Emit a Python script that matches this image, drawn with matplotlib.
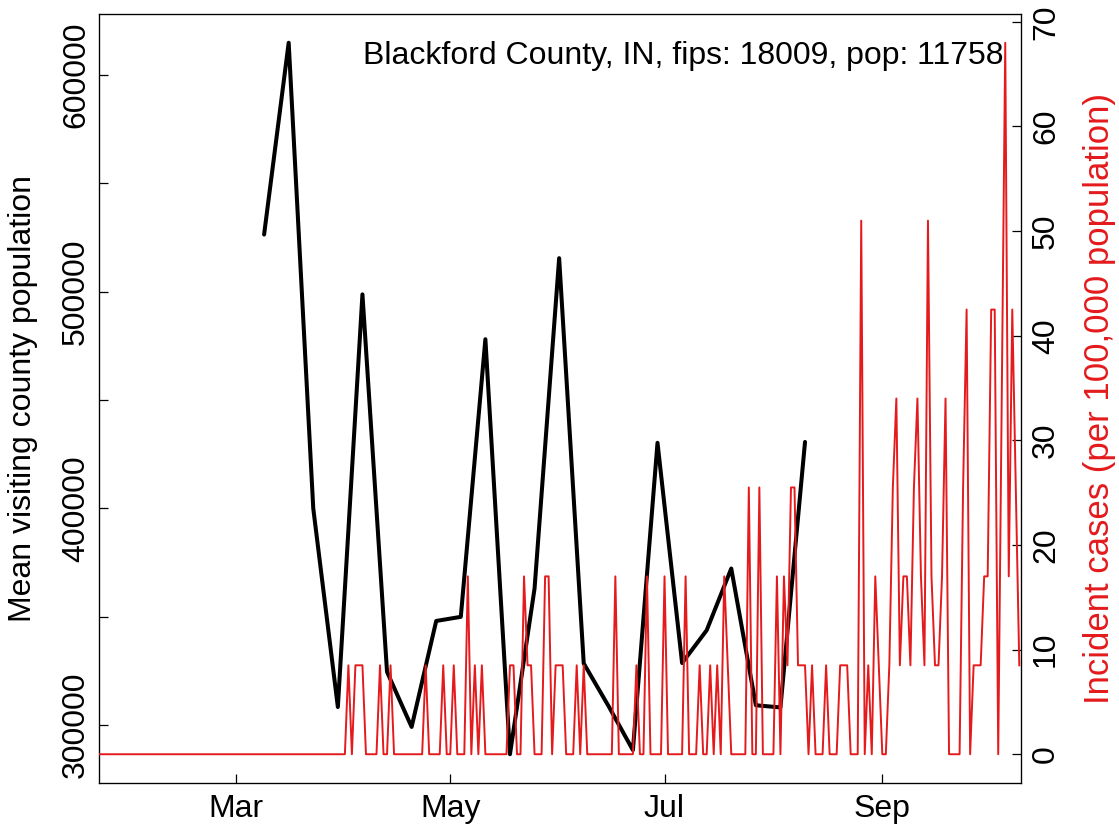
import numpy as np
import matplotlib
matplotlib.use("Agg")
import matplotlib.pyplot as plt
import matplotlib.dates as mdates

plt.rcParams['font.family'] = ['Liberation Sans', 'DejaVu Sans']

# ---------------- data ----------------
title_text = "Blackford County, IN, fips: 18009, pop: 11758"
left_label = "Mean visiting county population"
right_label = "Incident cases (per 100,000 population)"

# weekly mean visiting county population (Mar 9 .. Aug 10, 2020)
visit_start, visit_stop = '2020-03-09', '2020-08-11'
visit_values = [526400, 614900, 400000, 308400, 498800, 324600, 299200,
                348100, 350000, 478100, 286600, 363100, 515500, 328500,
                309000, 288500, 430300, 328700, 343800, 372300, 309200,
                308200, 430700]

# daily incident cases per 100,000 (Jan 22 .. Oct 10, 2020)
case_start, case_stop = '2020-01-22', '2020-10-11'
case_values = [
    0, 0, 0, 0, 0, 0, 0, 0, 0, 0,
    0, 0, 0, 0, 0, 0, 0, 0, 0, 0,
    0, 0, 0, 0, 0, 0, 0, 0, 0, 0,
    0, 0, 0, 0, 0, 0, 0, 0, 0, 0,
    0, 0, 0, 0, 0, 0, 0, 0, 0, 0,
    0, 0, 0, 0, 0, 0, 0, 0, 0, 0,
    0, 0, 0, 0, 0, 0, 0, 0, 0, 0,
    0,
    8.5, 0, 8.5, 8.5, 8.5, 0, 0, 0, 0, 8.5,
    0, 0, 8.5, 0, 0, 0, 0, 0, 0, 0,
    0, 0, 8.5, 0, 0, 0, 0, 8.5, 0, 0,
    8.5, 0, 0, 0, 17, 0, 8.5, 0, 8.5, 0,
    0, 0, 0, 0, 0, 0, 8.5, 8.5, 0, 0,
    17, 8.5, 8.5, 0, 0, 0, 17, 17, 0, 8.5,
    8.5, 8.5, 0, 0, 0, 8.5, 0, 8.5, 0, 0,
    0, 0, 0, 0, 0, 0, 17, 0, 0, 0,
    0, 0, 8.5, 0, 0, 17, 0, 0, 0, 0,
    17, 0, 0, 0, 0, 0, 17, 0, 0, 0,
    8.5, 0, 0, 8.5, 0, 8.5, 0, 17, 8.5, 0,
    0, 0, 0, 0, 25.5, 0, 0, 25.5, 0, 0,
    0, 0, 17, 0, 17, 8.5, 25.5, 25.5, 8.5, 8.5,
    8.5, 0, 8.5, 0, 0, 0, 8.5, 0, 0, 0,
    8.5, 8.5, 8.5, 0, 0, 0, 51, 0, 8.5, 0,
    17, 8.5, 0, 0, 8.5, 25.5, 34, 8.5, 17, 17,
    8.5, 25.5, 34, 17, 8.5, 51, 17, 8.5, 8.5, 17,
    34, 0, 0, 0, 0, 25.5, 42.5, 0, 8.5, 8.5,
    8.5, 17, 17, 42.5, 42.5, 0, 34, 68, 17, 42.5,
    25.5, 8.5,
]

month_ticks = ['2020-03-01', '2020-05-01', '2020-07-01', '2020-09-01']
month_labels = ['Mar', 'May', 'Jul', 'Sep']
left_ticks = [300000, 350000, 400000, 450000, 500000, 550000, 600000]
left_ticklabels = ['300000', '', '400000', '', '500000', '', '600000']
right_ticks = [0, 10, 20, 30, 40, 50, 60, 70]

# ---------------- plot ----------------
RED = '#E41A1C'
FS = 23
W, H = 1119, 826
fig = plt.figure(figsize=(W / 100, H / 100), dpi=100)
ax_l, ax_r, ax_t, ax_b = 99, 1020.7, 14.3, 782.7
ax = fig.add_axes([ax_l / W, 1 - ax_b / H, (ax_r - ax_l) / W, (ax_b - ax_t) / H])

visit_dates = np.arange(visit_start, visit_stop, 7, dtype='datetime64[D]')
case_dates = np.arange(case_start, case_stop, dtype='datetime64[D]')

ax.plot(visit_dates, visit_values, color='black', lw=2.9, solid_joinstyle='round',
        solid_capstyle='round', zorder=2)

vmin, vmax = min(visit_values), max(visit_values)
vpad = 0.04 * (vmax - vmin)
ax.set_ylim(vmin - vpad, vmax + vpad)

x0 = mdates.date2num(np.datetime64(case_start))
ax.set_xlim(x0, x0 + 262.4)

ax.set_xticks(mdates.date2num(np.array(month_ticks, dtype='datetime64[D]')))
ax.set_xticklabels(month_labels)
ax.set_yticks(left_ticks)
ax.set_yticklabels(left_ticklabels, rotation=90, va='center')

ax.tick_params(axis='both', direction='in', length=6.3, width=0.9,
               labelsize=FS, colors='black')
ax.tick_params(axis='x', pad=8.0)
ax.tick_params(axis='y', pad=5.8)
for s in ax.spines.values():
    s.set_linewidth(0.9)

ax2 = ax.twinx()
ax2.plot(case_dates, case_values, color=RED, lw=1.4, zorder=3)
cmax = max(case_values)
ax2.set_ylim(-0.04 * cmax, cmax * 1.04)
ax2.set_yticks(right_ticks)
ax2.set_yticklabels([str(t) for t in right_ticks], rotation=90, va='center')
ax2.tick_params(axis='y', direction='in', length=6.3, width=0.9,
                labelsize=FS, pad=7.4)
ax2.set_xlim(ax.get_xlim())

ax.text(0.9813, 0.9349, title_text, transform=ax.transAxes, ha='right',
        va='baseline', fontsize=FS)

fig.text(22.8 / W, 1 - 398.5 / H, left_label, rotation=90, ha='center',
         va='center', fontsize=FS)
fig.text(1099.5 / W, 1 - 398.5 / H, right_label, rotation=90, ha='center',
         va='center', fontsize=25, color=RED)

fig.savefig('out.png', dpi=100)
